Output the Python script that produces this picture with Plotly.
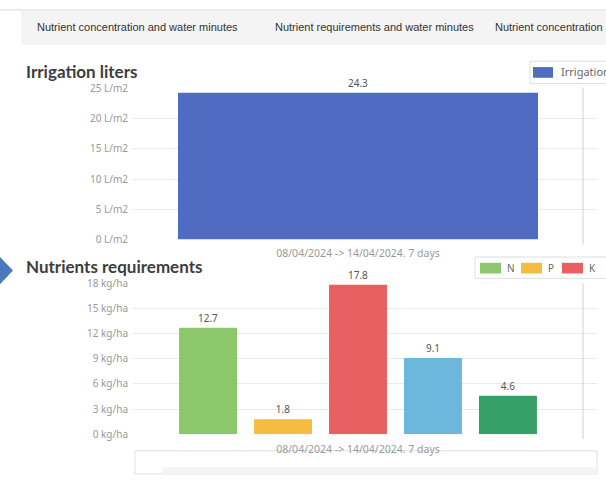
import plotly.graph_objects as go

# ---- data ----
period = ["08/04/2024 -> 14/04/2024. 7 days"]
irrigation_name = "Irrigation"
irrigation_values = [24.3]

nutrient_names = ["N", "P", "K", "Ca", "Mg"]
nutrient_values = [12.7, 1.8, 17.8, 9.1, 4.6]
nutrient_colors = ["#8cc76c", "#f5bd40", "#e95f62", "#6cb8dd", "#35a068"]

tab_labels = [
    "Nutrient concentration and water minutes",
    "Nutrient requirements and water minutes",
    "Nutrient concentration and water liters",
]

W, H = 606, 482


def px(x):
    return x / W


def py(y):
    return 1 - y / H


fig = go.Figure()

value_font = dict(family="Noto Sans", size=10, color="#555")

fig.add_trace(go.Bar(
    x=period, y=irrigation_values, name=irrigation_name,
    marker=dict(color="#4f6bc2", line=dict(width=0)),
    width=0.80,
    text=[f"{v}" for v in irrigation_values], textposition="outside",
    textfont=value_font, cliponaxis=False,
    xaxis="x", yaxis="y", showlegend=False,
))

for name, val, col in zip(nutrient_names, nutrient_values, nutrient_colors):
    fig.add_trace(go.Bar(
        x=period, y=[val], name=name,
        marker=dict(color=col, line=dict(width=0)),
        text=[f"{val}"], textposition="outside",
        textfont=value_font, cliponaxis=False,
        xaxis="x2", yaxis="y2", showlegend=False,
    ))

ytick_font = dict(family="Noto Sans", size=10, color="#999")
xtick_font = dict(family="Noto Sans", size=10.5, color="#999")
x_range = [-0.5, 0.5311]
x_domain = [px(133), px(597)]

fig.update_layout(
    width=W, height=H,
    margin=dict(l=0, r=0, t=0, b=0),
    paper_bgcolor="white", plot_bgcolor="rgba(0,0,0,0)",
    barmode="group", bargap=0.167, bargroupgap=0.227,
    font=dict(family="Noto Sans"),
    xaxis=dict(domain=x_domain, anchor="y", type="category", range=x_range,
               showgrid=False, showline=False, ticks="", tickfont=xtick_font,
               ticklabelstandoff=6),
    yaxis=dict(domain=[py(239), py(83)], anchor="x", range=[0, 25], dtick=5,
               ticksuffix=" L/m2", gridcolor="#e9e9e9", zeroline=False,
               showline=False, tickfont=ytick_font, ticklabelstandoff=4),
    xaxis2=dict(domain=x_domain, anchor="y2", type="category", range=x_range,
                showgrid=False, showline=False, ticks="", tickfont=xtick_font,
                ticklabelstandoff=7),
    yaxis2=dict(domain=[py(440), py(284)], anchor="x2", range=[0, 18], dtick=3,
                ticksuffix=" kg/ha", gridcolor="#e9e9e9", zeroline=False,
                showline=False, tickfont=ytick_font, ticklabelstandoff=4),
)

shapes = []
annotations = []

# tab bar
shapes.append(dict(type="rect", xref="paper", yref="paper",
                   x0=px(21), x1=px(W + 5), y0=py(38), y1=py(3),
                   fillcolor="#f4f4f4", line=dict(width=0), layer="below"))
shapes.append(dict(type="line", xref="paper", yref="paper",
                   x0=0, x1=1, y0=py(2), y1=py(2),
                   line=dict(color="#d9d9d9", width=1)))
for lbl, x0 in zip(tab_labels, [35, 273, 493]):
    annotations.append(dict(text=lbl, xref="paper", yref="paper", x=px(x0), y=py(20),
                            xanchor="left", yanchor="middle", showarrow=False,
                            font=dict(family="Liberation Sans", size=11, color="#333")))

# section titles
title_font = dict(family="Lato", size=17, color="#3d3d3d")
annotations.append(dict(text="<b>Irrigation liters</b>", xref="paper", yref="paper",
                        x=px(24), y=py(66), xanchor="left", yanchor="middle",
                        showarrow=False, font=title_font))
annotations.append(dict(text="<b>Nutrients requirements</b>", xref="paper", yref="paper",
                        x=px(24), y=py(267), xanchor="left", yanchor="middle",
                        showarrow=False, font=title_font))

# section marker arrow
shapes.append(dict(type="path", xref="paper", yref="paper",
                   path=f"M {px(0)},{py(257)} L {px(13)},{py(271)} L {px(0)},{py(285)} Z",
                   fillcolor="#4a78bd", line=dict(width=0)))

# right frame lines of each chart
for y0, y1 in [(82, 244), (284, 445)]:
    shapes.append(dict(type="line", xref="paper", yref="paper",
                       x0=px(583), x1=px(583), y0=py(y1), y1=py(y0),
                       line=dict(color="#cfcfcf", width=1)))

# legend boxes
leg_font = dict(family="Noto Sans", size=11, color="#666")
shapes.append(dict(type="rect", xref="paper", yref="paper",
                   x0=px(530), x1=px(W + 10), y0=py(78), y1=py(55),
                   fillcolor="white", line=dict(color="#dedede", width=1)))
shapes.append(dict(type="rect", xref="paper", yref="paper",
                   x0=px(533), x1=px(553), y0=py(72), y1=py(61),
                   fillcolor="#4f6bc2", line=dict(width=0)))
annotations.append(dict(text=irrigation_name, xref="paper", yref="paper",
                        x=px(559), y=py(66), xanchor="left", yanchor="middle",
                        showarrow=False, font=leg_font))

shapes.append(dict(type="rect", xref="paper", yref="paper",
                   x0=px(475), x1=px(W + 10), y0=py(279), y1=py(257),
                   fillcolor="white", line=dict(color="#dedede", width=1)))
leg2_font = dict(family="Noto Sans", size=10, color="#666")
for i, (name, col) in enumerate(zip(nutrient_names, nutrient_colors)):
    sx = 480 + 41 * i
    if sx + 30 > W:
        break
    shapes.append(dict(type="rect", xref="paper", yref="paper",
                       x0=px(sx), x1=px(sx + 21), y0=py(274), y1=py(263),
                       fillcolor=col, line=dict(width=0)))
    annotations.append(dict(text=name, xref="paper", yref="paper",
                            x=px(sx + 25), y=py(268.5), xanchor="left", yanchor="middle",
                            showarrow=False, font=leg2_font))

# lower panel frame (kept behind the axis labels)
shapes.append(dict(type="rect", xref="paper", yref="paper",
                   x0=px(135), x1=px(597), y0=py(481), y1=py(457),
                   fillcolor="white", line=dict(color="#e0e0e0", width=1), layer="below"))
shapes.append(dict(type="rect", xref="paper", yref="paper",
                   x0=px(163), x1=px(597), y0=py(481), y1=py(474),
                   fillcolor="#f4f4f4", line=dict(width=0), layer="below"))

fig.update_layout(shapes=shapes, annotations=annotations)

fig.write_html("out.html")
